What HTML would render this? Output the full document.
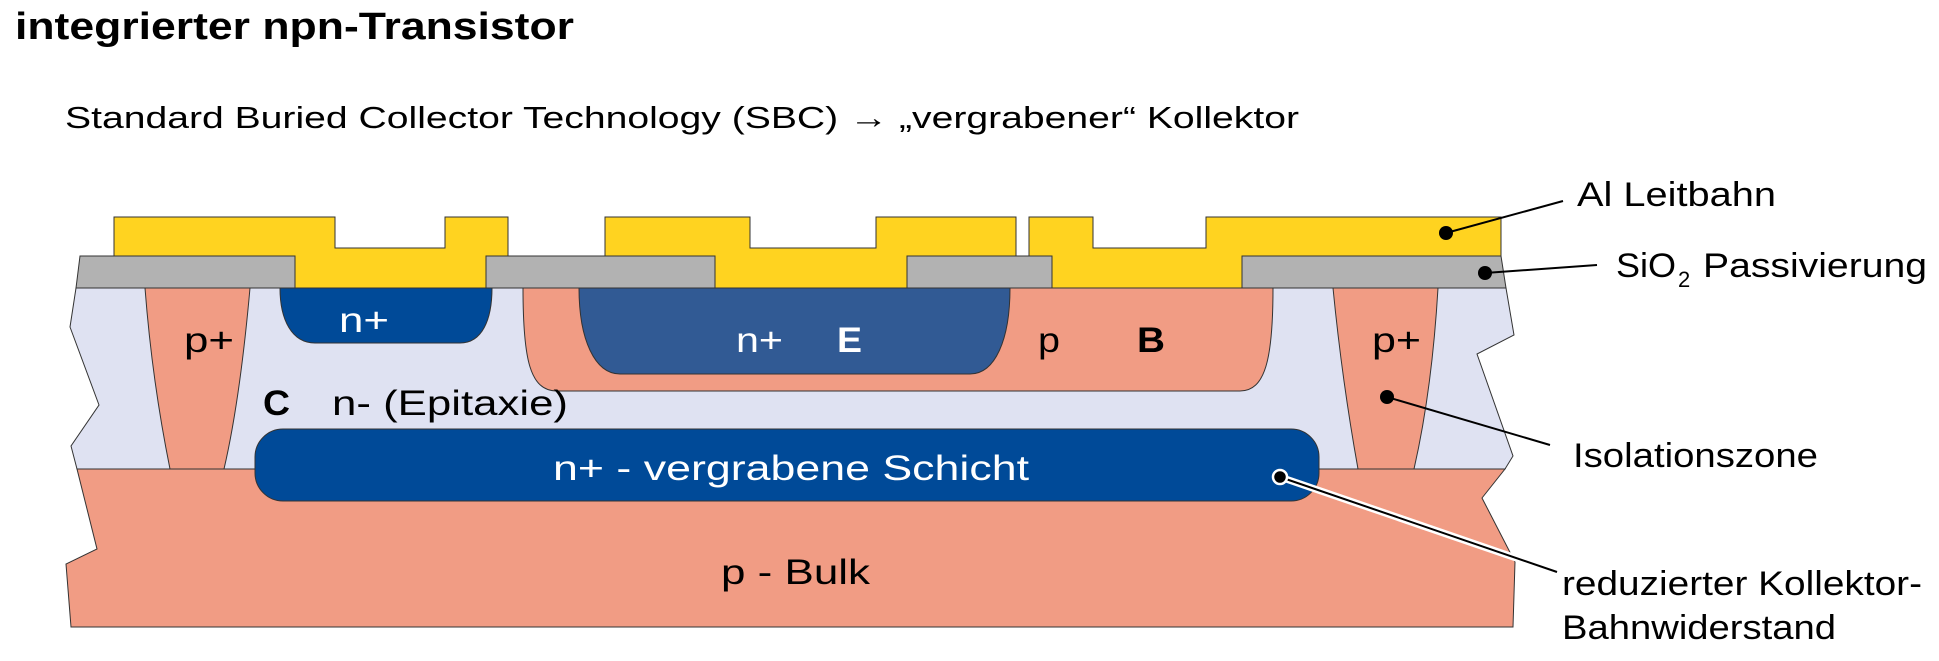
<!DOCTYPE html>
<html><head><meta charset="utf-8"><style>
html,body{margin:0;padding:0;background:#fff}
svg{display:block}
text{font-family:"Liberation Sans",Arial,sans-serif}
</style></head><body>
<svg width="1939" height="661" viewBox="0 0 1939 661" xmlns="http://www.w3.org/2000/svg">
<text x="15" y="39" font-size="38" font-weight="bold" textLength="559" lengthAdjust="spacingAndGlyphs">integrierter npn-Transistor</text>
<text x="65" y="128" font-size="31" textLength="1234" lengthAdjust="spacingAndGlyphs">Standard Buried Collector Technology (SBC) → „vergrabener“ Kollektor</text>

<g stroke="#333" stroke-width="1">
<polygon fill="#f19c84" points="77,469 97,549 66,564 71,627 1513,627 1515,562 1482,498 1505,469"/>
<polygon fill="#dfe2f2" points="76,288 1506,288 1514,335 1477,354 1513,456 1505,469 77,469 71,446 99,405 70,327"/>
<path fill="#f19c84" d="M145,288 L250,288 Q240,400 224,469 L170,469 Q152,380 145,288Z"/>
<path fill="#f19c84" d="M1333,288 L1438,288 Q1432,390 1414,469 L1358,469 Q1342,380 1333,288Z"/>
<path fill="#f19c84" d="M523,288 L1273,288 C1273,360 1265,391 1240,391 L557,391 C530,391 523,360 523,288Z"/>
<path fill="#315a94" d="M579,288 L1010,288 C1010,340 995,374 970,374 L620,374 C595,374 579,340 579,288Z"/>
<path fill="#004a98" d="M280,288 L492,288 C492,320 482,343 460,343 L315,343 C292,343 280,320 280,288Z"/>
<rect x="255" y="429" width="1064" height="72" rx="28" fill="#004a98"/>
<polygon fill="#ffd320" points="114,217 335,217 335,248 445,248 445,217 508,217 508,256 486,256 486,288 295,288 295,256 114,256"/>
<polygon fill="#ffd320" points="605,217 750,217 750,248 876,248 876,217 1016,217 1016,256 907,256 907,288 715,288 715,256 605,256"/>
<polygon fill="#ffd320" points="1029,217 1093,217 1093,248 1206,248 1206,217 1501,217 1501,256 1242,256 1242,288 1052,288 1052,256 1029,256"/>
<polygon fill="#b2b2b2" points="80,256 295,256 295,288 76,288"/>
<rect x="486" y="256" width="229" height="32" fill="#b2b2b2"/>
<rect x="907" y="256" width="145" height="32" fill="#b2b2b2"/>
<polygon fill="#b2b2b2" points="1242,256 1501,256 1506,288 1242,288"/>
</g>

<g font-size="35">
<text x="339" y="332" fill="#fff" textLength="50" lengthAdjust="spacingAndGlyphs">n+</text>
<text x="184" y="352" textLength="50" lengthAdjust="spacingAndGlyphs">p+</text>
<text x="263" y="415" font-weight="bold" textLength="27" lengthAdjust="spacingAndGlyphs">C</text>
<text x="332" y="415" textLength="236" lengthAdjust="spacingAndGlyphs">n- (Epitaxie)</text>
<text x="736" y="352" fill="#fff" textLength="47" lengthAdjust="spacingAndGlyphs">n+</text>
<text x="837" y="352" fill="#fff" font-weight="bold" textLength="25" lengthAdjust="spacingAndGlyphs">E</text>
<text x="1038" y="352" textLength="22" lengthAdjust="spacingAndGlyphs">p</text>
<text x="1137" y="352" font-weight="bold" textLength="28" lengthAdjust="spacingAndGlyphs">B</text>
<text x="1372" y="352" textLength="49" lengthAdjust="spacingAndGlyphs">p+</text>
<text x="553" y="480" fill="#fff" textLength="476" lengthAdjust="spacingAndGlyphs">n+ - vergrabene Schicht</text>
<text x="721" y="584" textLength="149" lengthAdjust="spacingAndGlyphs">p - Bulk</text>
</g>

<g stroke="#000" stroke-width="2">
<line x1="1446" y1="233" x2="1563" y2="201"/>
<line x1="1485" y1="273" x2="1597" y2="265"/>
<line x1="1387" y1="397" x2="1550" y2="445"/>
<line x1="1280" y1="477" x2="1557" y2="572" stroke="#fff" stroke-width="7"/>
<line x1="1280" y1="477" x2="1557" y2="572"/>
</g>
<circle cx="1446" cy="233" r="7"/>
<circle cx="1485" cy="273" r="7"/>
<circle cx="1387" cy="397" r="7"/>
<circle cx="1280" cy="477" r="7" stroke="#fff" stroke-width="2.5"/>

<g font-size="34">
<text x="1577" y="206" textLength="199" lengthAdjust="spacingAndGlyphs">Al Leitbahn</text>
<text x="1616" y="277" textLength="60" lengthAdjust="spacingAndGlyphs">SiO</text>
<text x="1678" y="287" font-size="22">2</text>
<text x="1703" y="277" textLength="224" lengthAdjust="spacingAndGlyphs">Passivierung</text>
<text x="1573" y="467" textLength="245" lengthAdjust="spacingAndGlyphs">Isolationszone</text>
<text x="1562" y="595" textLength="360" lengthAdjust="spacingAndGlyphs">reduzierter Kollektor-</text>
<text x="1562" y="639" textLength="274" lengthAdjust="spacingAndGlyphs">Bahnwiderstand</text>
</g>
</svg>
</body></html>
